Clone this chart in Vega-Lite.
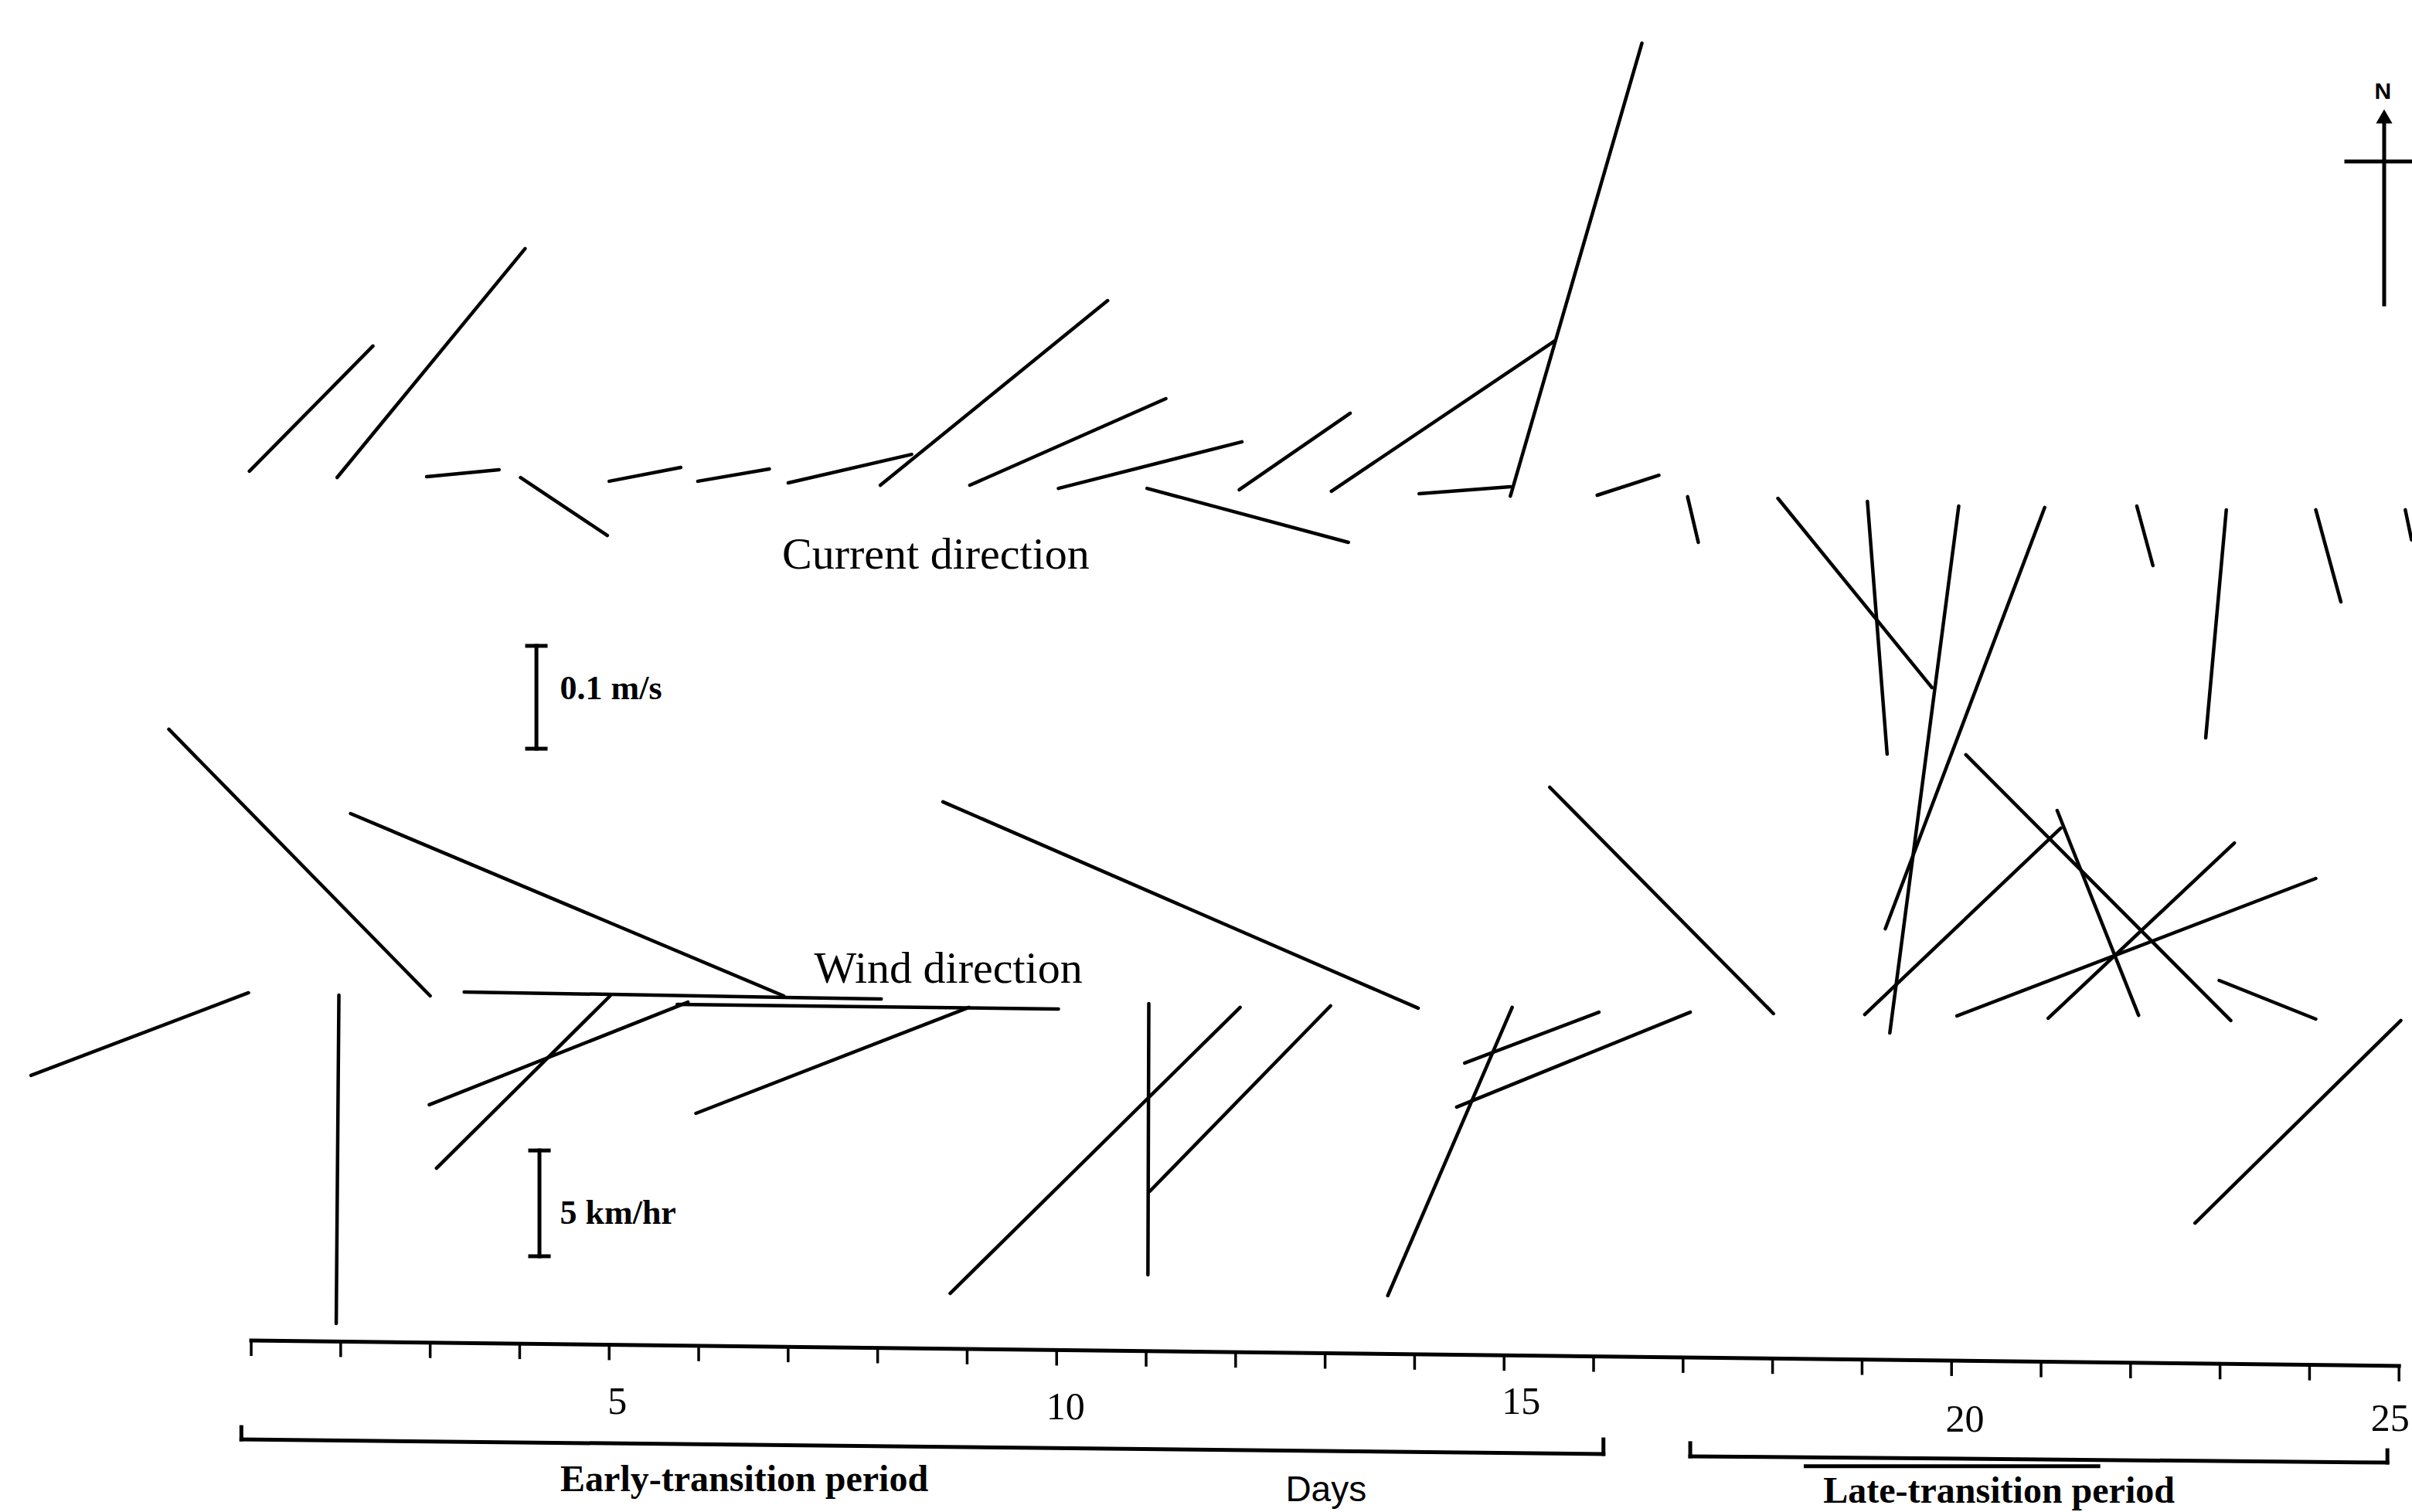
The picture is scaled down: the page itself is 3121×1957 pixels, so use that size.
{
  "$schema": "https://vega.github.io/schema/vega-lite/v6.json",
  "width": 3121,
  "height": 1957,
  "autosize": {"type": "none"},
  "padding": 0,
  "background": "white",
  "config": {"view": {"stroke": null}},
  "datasets": {
    "sticks": [
      {"series":"current","day":0.98,"dayEnd":2.36,"level":49.89,"levelEnd":55.89},
      {"series":"current","day":1.96,"dayEnd":4.06,"level":49.59,"levelEnd":60.56},
      {"series":"current","day":2.96,"dayEnd":3.77,"level":49.63,"levelEnd":49.96},
      {"series":"current","day":4.01,"dayEnd":4.98,"level":49.59,"levelEnd":46.81},
      {"series":"current","day":5.0,"dayEnd":5.8,"level":49.41,"levelEnd":50.07},
      {"series":"current","day":5.99,"dayEnd":6.79,"level":49.41,"levelEnd":50.0},
      {"series":"current","day":7.0,"dayEnd":8.38,"level":49.33,"levelEnd":50.7},
      {"series":"current","day":8.03,"dayEnd":10.57,"level":49.22,"levelEnd":58.07},
      {"series":"current","day":9.03,"dayEnd":11.22,"level":49.22,"levelEnd":53.37},
      {"series":"current","day":10.02,"dayEnd":12.07,"level":49.07,"levelEnd":51.3},
      {"series":"current","day":11.01,"dayEnd":13.26,"level":49.07,"levelEnd":46.48},
      {"series":"current","day":12.04,"dayEnd":13.28,"level":49.0,"levelEnd":52.67},
      {"series":"current","day":13.07,"dayEnd":15.57,"level":48.93,"levelEnd":56.15},
      {"series":"current","day":14.05,"dayEnd":15.07,"level":48.81,"levelEnd":49.15},
      {"series":"current","day":15.07,"dayEnd":16.54,"level":48.7,"levelEnd":70.41},
      {"series":"current","day":16.04,"dayEnd":16.73,"level":48.74,"levelEnd":49.7},
      {"series":"current","day":17.05,"dayEnd":17.17,"level":48.67,"levelEnd":46.48},
      {"series":"current","day":18.06,"dayEnd":19.78,"level":48.59,"levelEnd":39.52},
      {"series":"current","day":19.06,"dayEnd":19.28,"level":48.44,"levelEnd":36.33},
      {"series":"current","day":20.08,"dayEnd":19.31,"level":48.22,"levelEnd":22.96},
      {"series":"current","day":21.04,"dayEnd":19.26,"level":48.15,"levelEnd":27.96},
      {"series":"current","day":22.07,"dayEnd":22.25,"level":48.22,"levelEnd":45.37},
      {"series":"current","day":23.07,"dayEnd":22.84,"level":48.04,"levelEnd":37.11},
      {"series":"current","day":24.07,"dayEnd":24.35,"level":48.04,"levelEnd":43.63},
      {"series":"current","day":25.07,"dayEnd":25.14,"level":48.04,"levelEnd":46.6},
      {"series":"wind","day":0.97,"dayEnd":-1.46,"level":24.89,"levelEnd":20.93},
      {"series":"wind","day":1.98,"dayEnd":1.95,"level":24.78,"levelEnd":9.04},
      {"series":"wind","day":3.0,"dayEnd":0.08,"level":24.74,"levelEnd":37.52},
      {"series":"wind","day":5.01,"dayEnd":3.07,"level":24.74,"levelEnd":16.48},
      {"series":"wind","day":5.88,"dayEnd":2.99,"level":24.44,"levelEnd":19.52},
      {"series":"wind","day":6.95,"dayEnd":2.11,"level":24.74,"levelEnd":33.48},
      {"series":"wind","day":8.04,"dayEnd":3.38,"level":24.59,"levelEnd":24.93},
      {"series":"wind","day":9.02,"dayEnd":5.97,"level":24.19,"levelEnd":19.11},
      {"series":"wind","day":10.02,"dayEnd":5.76,"level":24.11,"levelEnd":24.33},
      {"series":"wind","day":11.03,"dayEnd":11.02,"level":24.37,"levelEnd":11.37},
      {"series":"wind","day":12.05,"dayEnd":8.81,"level":24.19,"levelEnd":10.48},
      {"series":"wind","day":13.06,"dayEnd":11.04,"level":24.26,"levelEnd":15.37},
      {"series":"wind","day":14.04,"dayEnd":8.73,"level":24.15,"levelEnd":34.04},
      {"series":"wind","day":15.09,"dayEnd":13.7,"level":24.19,"levelEnd":10.37},
      {"series":"wind","day":16.06,"dayEnd":14.56,"level":23.96,"levelEnd":21.52},
      {"series":"wind","day":17.08,"dayEnd":14.47,"level":23.96,"levelEnd":19.41},
      {"series":"wind","day":18.01,"dayEnd":15.51,"level":23.89,"levelEnd":34.74},
      {"series":"wind","day":19.03,"dayEnd":21.22,"level":23.85,"levelEnd":32.78},
      {"series":"wind","day":20.06,"dayEnd":24.07,"level":23.78,"levelEnd":30.37},
      {"series":"wind","day":21.08,"dayEnd":23.16,"level":23.67,"levelEnd":32.07},
      {"series":"wind","day":22.09,"dayEnd":21.18,"level":23.81,"levelEnd":33.63},
      {"series":"wind","day":23.12,"dayEnd":20.16,"level":23.56,"levelEnd":36.3},
      {"series":"wind","day":24.07,"dayEnd":22.99,"level":23.63,"levelEnd":25.48},
      {"series":"wind","day":25.02,"dayEnd":22.72,"level":23.56,"levelEnd":13.85}
    ],
    "ticks": [
      {"day":1,"level":8.22,"levelEnd":7.48},{"day":2,"level":8.17,"levelEnd":7.43},
      {"day":3,"level":8.12,"levelEnd":7.38},{"day":4,"level":8.07,"levelEnd":7.33},
      {"day":5,"level":8.02,"levelEnd":7.28},{"day":6,"level":7.97,"levelEnd":7.23},
      {"day":7,"level":7.92,"levelEnd":7.18},{"day":8,"level":7.87,"levelEnd":7.13},
      {"day":9,"level":7.82,"levelEnd":7.08},{"day":10,"level":7.76,"levelEnd":7.02},
      {"day":11,"level":7.71,"levelEnd":6.97},{"day":12,"level":7.66,"levelEnd":6.92},
      {"day":13,"level":7.61,"levelEnd":6.87},{"day":14,"level":7.56,"levelEnd":6.82},
      {"day":15,"level":7.51,"levelEnd":6.77},{"day":16,"level":7.46,"levelEnd":6.72},
      {"day":17,"level":7.41,"levelEnd":6.67},{"day":18,"level":7.36,"levelEnd":6.62},
      {"day":19,"level":7.31,"levelEnd":6.57},{"day":20,"level":7.26,"levelEnd":6.52},
      {"day":21,"level":7.2,"levelEnd":6.46},{"day":22,"level":7.15,"levelEnd":6.41},
      {"day":23,"level":7.1,"levelEnd":6.36},{"day":24,"level":7.05,"levelEnd":6.31},
      {"day":25,"level":7.0,"levelEnd":6.26}
    ],
    "segments": [
      {"part":"axis","day":1,"dayEnd":25,"level":8.22,"levelEnd":7.0},
      {"part":"early","day":0.89,"dayEnd":16.11,"level":3.48,"levelEnd":2.78},
      {"part":"early","day":0.89,"dayEnd":0.89,"level":3.48,"levelEnd":4.07},
      {"part":"early","day":16.11,"dayEnd":16.11,"level":2.78,"levelEnd":3.48},
      {"part":"late","day":17.08,"dayEnd":24.87,"level":2.67,"levelEnd":2.37},
      {"part":"late","day":17.08,"dayEnd":17.08,"level":2.67,"levelEnd":3.3},
      {"part":"late","day":24.87,"dayEnd":24.87,"level":2.37,"levelEnd":2.96},
      {"part":"underline","day":18.37,"dayEnd":21.64,"level":2.19,"levelEnd":2.19},
      {"part":"currentScale","day":4.187,"dayEnd":4.187,"level":41.52,"levelEnd":36.59},
      {"part":"currentScale","day":4.083,"dayEnd":4.29,"level":41.52,"levelEnd":41.52},
      {"part":"currentScale","day":4.083,"dayEnd":4.29,"level":36.59,"levelEnd":36.59},
      {"part":"windScale","day":4.221,"dayEnd":4.221,"level":17.33,"levelEnd":12.26},
      {"part":"windScale","day":4.117,"dayEnd":4.325,"level":17.33,"levelEnd":17.33},
      {"part":"windScale","day":4.117,"dayEnd":4.325,"level":12.26,"levelEnd":12.26},
      {"part":"north","day":24.834,"dayEnd":24.834,"level":66.6,"levelEnd":57.89},
      {"part":"north","day":24.411,"dayEnd":25.257,"level":64.74,"levelEnd":64.74}
    ],
    "dayLabels": [
      {"label":"5","day":5.09,"level":4.7},
      {"label":"10","day":10.1,"level":4.44},
      {"label":"15","day":15.19,"level":4.7},
      {"label":"20","day":20.15,"level":3.85},
      {"label":"25","day":24.9,"level":3.89}
    ],
    "seriesTitles": [
      {"label":"Current direction","day":8.65,"level":45.22},
      {"label":"Wind direction","day":8.79,"level":25.37}
    ],
    "unitLabels": [
      {"label":"0.1 m/s","day":4.45,"level":38.96},
      {"label":"5 km/hr","day":4.45,"level":13.81}
    ],
    "periodLabels": [
      {"label":"Early-transition period","day":6.51,"level":1.0},
      {"label":"Late-transition period","day":20.53,"level":0.44}
    ],
    "axisTitle": [{"label":"Days","day":13.01,"level":0.52}],
    "northLabel": [{"label":"N","day":24.82,"level":67.74}],
    "northHead": [{"day":24.834,"level":66.9}]
  },
  "layer": [
    {
      "data": {"name": "sticks"},
      "mark": {"type": "rule", "color": "black", "strokeWidth": 4.5, "strokeCap": "round"},
      "encoding": {
        "x": {"field": "day", "type": "quantitative", "scale": {"domain": [-1.807, 25.145], "nice": false, "zero": false}, "axis": null},
        "x2": {"field": "dayEnd"},
        "y": {"field": "level", "type": "quantitative", "scale": {"domain": [0, 72.48], "nice": false, "zero": false}, "axis": null},
        "y2": {"field": "levelEnd"}
      }
    },
    {
      "data": {"name": "segments"},
      "mark": {"type": "rule", "color": "black", "strokeWidth": 5, "strokeCap": "square"},
      "encoding": {
        "x": {"field": "day", "type": "quantitative", "axis": null},
        "x2": {"field": "dayEnd"},
        "y": {"field": "level", "type": "quantitative", "axis": null},
        "y2": {"field": "levelEnd"}
      }
    },
    {
      "data": {"name": "ticks"},
      "mark": {"type": "rule", "color": "black", "strokeWidth": 3.5},
      "encoding": {
        "x": {"field": "day", "type": "quantitative", "axis": null},
        "y": {"field": "level", "type": "quantitative", "axis": null},
        "y2": {"field": "levelEnd"}
      }
    },
    {
      "data": {"name": "northHead"},
      "mark": {"type": "point", "shape": "triangle-up", "filled": true, "color": "black", "size": 450, "opacity": 1},
      "encoding": {
        "x": {"field": "day", "type": "quantitative", "axis": null},
        "y": {"field": "level", "type": "quantitative", "axis": null}
      }
    },
    {
      "data": {"name": "dayLabels"},
      "mark": {"type": "text", "font": "Liberation Serif", "fontSize": 50, "align": "center", "baseline": "alphabetic", "color": "black"},
      "encoding": {
        "x": {"field": "day", "type": "quantitative", "axis": null},
        "y": {"field": "level", "type": "quantitative", "axis": null},
        "text": {"field": "label"}
      }
    },
    {
      "data": {"name": "seriesTitles"},
      "mark": {"type": "text", "font": "Liberation Serif", "fontSize": 58, "align": "center", "baseline": "alphabetic", "color": "black"},
      "encoding": {
        "x": {"field": "day", "type": "quantitative", "axis": null},
        "y": {"field": "level", "type": "quantitative", "axis": null},
        "text": {"field": "label"}
      }
    },
    {
      "data": {"name": "unitLabels"},
      "mark": {"type": "text", "font": "Liberation Serif", "fontSize": 44, "fontWeight": "bold", "align": "left", "baseline": "alphabetic", "color": "black"},
      "encoding": {
        "x": {"field": "day", "type": "quantitative", "axis": null},
        "y": {"field": "level", "type": "quantitative", "axis": null},
        "text": {"field": "label"}
      }
    },
    {
      "data": {"name": "periodLabels"},
      "mark": {"type": "text", "font": "Liberation Serif", "fontSize": 48, "fontWeight": "bold", "align": "center", "baseline": "alphabetic", "color": "black"},
      "encoding": {
        "x": {"field": "day", "type": "quantitative", "axis": null},
        "y": {"field": "level", "type": "quantitative", "axis": null},
        "text": {"field": "label"}
      }
    },
    {
      "data": {"name": "axisTitle"},
      "mark": {"type": "text", "font": "Liberation Sans", "fontSize": 46, "align": "center", "baseline": "alphabetic", "color": "black"},
      "encoding": {
        "x": {"field": "day", "type": "quantitative", "axis": null},
        "y": {"field": "level", "type": "quantitative", "axis": null},
        "text": {"field": "label"}
      }
    },
    {
      "data": {"name": "northLabel"},
      "mark": {"type": "text", "font": "Liberation Sans", "fontSize": 30, "fontWeight": "bold", "align": "center", "baseline": "alphabetic", "color": "black"},
      "encoding": {
        "x": {"field": "day", "type": "quantitative", "axis": null},
        "y": {"field": "level", "type": "quantitative", "axis": null},
        "text": {"field": "label"}
      }
    }
  ]
}
